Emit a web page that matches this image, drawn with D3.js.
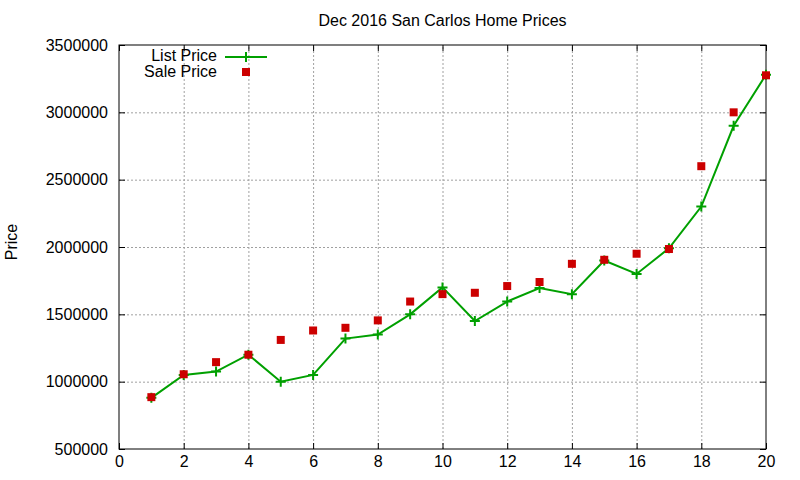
<!DOCTYPE html>
<html>
<head>
<meta charset="utf-8">
<script src="https://cdn.jsdelivr.net/npm/d3@7"></script>
<style>
	body { margin: 0; background: #fff; }
	svg { font-family: "Liberation Sans", Arial, sans-serif; }
	.axis path { display: none; }
	.axis line { stroke: #000; stroke-width: 1; }
	.axis text { font-size: 16px; fill: #000; }
	.grid line { stroke: #a0a0a0; stroke-width: 1; stroke-dasharray: 2,2; }
	.grid path { display: none; }
</style>
</head>
<body>
<svg id="plot" width="800" height="480"></svg>
<script>

const TITLE = 'Dec 2016 San Carlos Home Prices';
const Y_LABEL = 'Price';
const DAYS = [1, 2, 3, 4, 5, 6, 7, 8, 9, 10, 11, 12, 13, 14, 15, 16, 17, 18, 19, 20];
const LIST_PRICE = [880000, 1050000, 1075000, 1200000, 1000000, 1050000, 1320000, 1350000, 1500000, 1700000,
	1450000, 1595000, 1695000, 1650000, 1900000, 1800000, 1990000, 2300000, 2900000, 3280000];
const SALE_PRICE = [885000, 1055000, 1145000, 1200000, 1310000, 1380000, 1400000, 1455000, 1595000, 1650000,
	1660000, 1710000, 1740000, 1875000, 1905000, 1950000, 1985000, 2600000, 3000000, 3275000];
const X_TICKS = [0, 2, 4, 6, 8, 10, 12, 14, 16, 18, 20];
const Y_TICKS = [500000, 1000000, 1500000, 2000000, 2500000, 3000000, 3500000];
const SERIES_NAMES = ['List Price', 'Sale Price'];

const GREEN = '#00a000';
const RED = '#cc0000';

function whenDocumentLoaded(action) {
	if (document.readyState === "loading") {
		document.addEventListener("DOMContentLoaded", action);
	} else {
		action();
	}
}

class PriceChart {
	constructor(elementId) {
		this.elementId = elementId;
		this.draw();
	}
	draw() {
		var svg = d3.select(`#${this.elementId}`);
		var left = 119, right = 766, top = 45, bottom = 449;

		var x = d3.scaleLinear().domain([0, 20]).range([left, right]);
		var y = d3.scaleLinear().domain([500000, 3500000]).range([bottom, top]);

		// grid (inner lines only)
		svg.append('g')
			.attr('class', 'grid')
			.attr('transform', `translate(0, ${bottom})`)
			.call(d3.axisBottom(x).tickValues(X_TICKS.slice(1, -1)).tickSize(-(bottom - top)).tickFormat(''));
		svg.append('g')
			.attr('class', 'grid')
			.attr('transform', `translate(${left}, 0)`)
			.call(d3.axisLeft(y).tickValues(Y_TICKS.slice(1, -1)).tickSize(-(right - left)).tickFormat(''));

		// axes with inward ticks, mirrored on top and right
		svg.append('g')
			.attr('class', 'axis')
			.attr('transform', `translate(0, ${bottom})`)
			.call(d3.axisBottom(x).tickValues(X_TICKS).tickSize(-6).tickPadding(7).tickFormat(d3.format('d')));
		svg.append('g')
			.attr('class', 'axis')
			.attr('transform', `translate(0, ${top})`)
			.call(d3.axisTop(x).tickValues(X_TICKS).tickSize(-6).tickFormat(''));
		svg.append('g')
			.attr('class', 'axis')
			.attr('transform', `translate(${left}, 0)`)
			.call(d3.axisLeft(y).tickValues(Y_TICKS).tickSize(-6).tickPadding(11).tickFormat(d3.format('d')));
		svg.append('g')
			.attr('class', 'axis')
			.attr('transform', `translate(${right}, 0)`)
			.call(d3.axisRight(y).tickValues(Y_TICKS).tickSize(-6).tickFormat(''));

		// border
		svg.append('rect')
			.attr('x', left).attr('y', top)
			.attr('width', right - left).attr('height', bottom - top)
			.attr('fill', 'none').attr('stroke', '#000').attr('stroke-width', 1);

		// title and y label
		svg.append('text')
			.attr('x', (left + right) / 2).attr('y', 26)
			.attr('text-anchor', 'middle')
			.style('font-size', '16px')
			.text(TITLE);
		svg.append('text')
			.attr('transform', `translate(17, ${(top + bottom) / 2 - 5}) rotate(-90)`)
			.attr('text-anchor', 'middle')
			.style('font-size', '16px')
			.text(Y_LABEL);

		var list = DAYS.map((d, i) => ({ x: d, y: LIST_PRICE[i] }));
		var sale = DAYS.map((d, i) => ({ x: d, y: SALE_PRICE[i] }));

		var line = d3.line().x((d) => x(d.x)).y((d) => y(d.y));
		svg.append('path')
			.datum(list)
			.attr('d', line)
			.attr('fill', 'none')
			.attr('stroke', GREEN)
			.attr('stroke-width', 2);

		// plus markers
		svg.append('g')
			.selectAll('path')
			.data(list)
			.enter()
			.append('path')
				.attr('d', (d) => `M${x(d.x) - 5},${y(d.y)}h10M${x(d.x)},${y(d.y) - 5}v10`)
				.attr('stroke', GREEN)
				.attr('stroke-width', 2);

		// square markers
		svg.append('g')
			.selectAll('rect')
			.data(sale)
			.enter()
			.append('rect')
				.attr('x', (d) => x(d.x) - 4)
				.attr('y', (d) => y(d.y) - 4)
				.attr('width', 8)
				.attr('height', 8)
				.attr('fill', RED);

		// legend
		var legend = svg.append('g');
		legend.append('text')
			.attr('x', 217).attr('y', 61)
			.attr('text-anchor', 'end')
			.style('font-size', '16px')
			.text(SERIES_NAMES[0]);
		legend.append('line')
			.attr('x1', 225).attr('x2', 267).attr('y1', 57).attr('y2', 57)
			.attr('stroke', GREEN).attr('stroke-width', 2);
		legend.append('path')
			.attr('d', 'M246,52v10')
			.attr('stroke', GREEN).attr('stroke-width', 2);
		legend.append('text')
			.attr('x', 217).attr('y', 77)
			.attr('text-anchor', 'end')
			.style('font-size', '16px')
			.text(SERIES_NAMES[1]);
		legend.append('rect')
			.attr('x', 242).attr('y', 68).attr('width', 8).attr('height', 8)
			.attr('fill', RED);
	}
}

whenDocumentLoaded(() => {
	const chart = new PriceChart('plot');
});
</script>
</body>
</html>
